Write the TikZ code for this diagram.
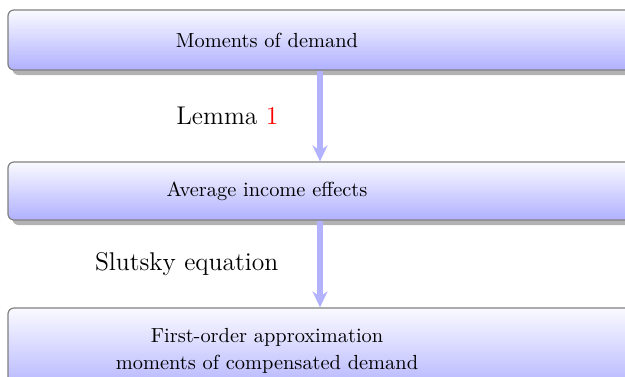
\documentclass[tikz,border=0pt]{standalone}
\usepackage{amsmath}
\usepackage{tikz}
\usetikzlibrary{shadows, arrows.meta}

\begin{document}
\begin{tikzpicture}[x=0.5pt, y=-0.5pt, box/.style={rectangle, rounded corners=3pt, draw=black!50, line width=0.6pt, top color=blue!2, bottom color=blue!31, minimum width=312pt, drop shadow={shadow xshift=2.2pt, shadow yshift=-2.5pt, fill=black!30, opacity=1}}, txt/.style={align=center, font=\fontsize{10.2}{13.5}\selectfont}, lab/.style={font=\fontsize{12.8}{15}\selectfont}, n/.style={-{Stealth[length=8pt, width=7.5pt]}, line width=3pt, blue!30}]
            \useasboundingbox (0,0) rectangle (625,376);
            % nodes
            \node[box, minimum height=30pt] (b1) at (320,40) {};
            \node[box, minimum height=29pt] (b2) at (320,191) {};
            \node[box, minimum height=43pt] (b3) at (320,351) {};

            \node[txt] (t1) at (267,40) {Moments of demand};
            \node[txt] (t2) at (267,191) {Average income effects};
            \node[txt] (t3) at (267,351) {First-order approximation\\moments of compensated demand};
            % edges
            \draw [n] (b1) -- node[midway, left=16pt, lab, black] (l1) {Lemma \textcolor{red}{1}} (b2);
            \draw [n] (b2) -- node[midway, left=16pt, lab, black] (l2) {Slutsky equation} (b3);
        \end{tikzpicture}
\end{document}
